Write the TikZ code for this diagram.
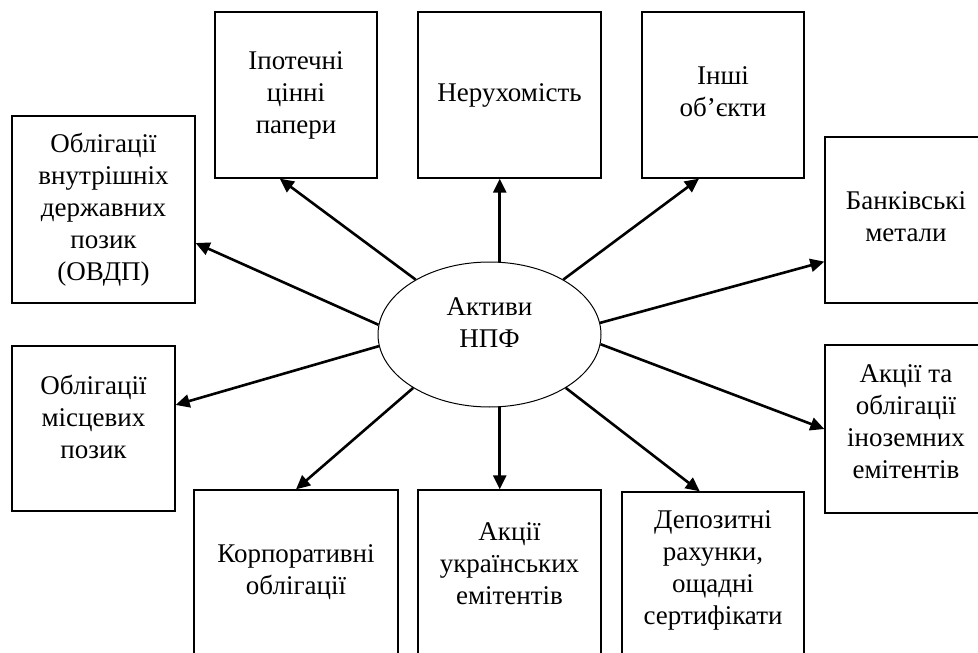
\documentclass[tikz,border=0pt]{standalone}
\usepackage{fontspec}
\setmainfont{Liberation Serif}
\usetikzlibrary{shapes.geometric, arrows.meta}

\begin{document}
\begin{tikzpicture}[
    x=1pt, y=-1pt,
    font=\fontsize{27}{32}\selectfont,
    assetbox/.style={draw=black, line width=1.3pt, rectangle,
                     minimum width=162pt, minimum height=166pt,
                     inner sep=0pt, align=center},
    centernode/.style={draw=black, line width=1pt, ellipse,
                       minimum width=223pt, minimum height=145pt,
                       inner sep=0pt, align=center},
    arr/.style={-{Triangle[length=14pt, width=13pt]}, line width=2.6pt},
]
    \clip (0,0) rectangle (978,653);
    \node[centernode, text depth=24pt] (n0) at (489.5,334.5) {Активи\\НПФ};
    \node[assetbox] (n1) at (296,95) {Іпотечні\\цінні\\папери};
    \node[assetbox, minimum width=183pt] (n2) at (509.5,95) {Нерухомість};
    \node[assetbox, text depth=6pt] (n3) at (723,95) {Інші\\об’єкти};
    \node[assetbox, minimum width=183pt, minimum height=187pt] (n4) at (103.5,209.5)
        {Облігації\\внутрішніх\\державних\\позик\\(ОВДП)};
    \node[assetbox, minimum width=163pt, minimum height=165pt, text depth=24pt] (n5) at (93.5,428.5)
        {Облігації\\місцевих\\позик};
    \node[assetbox, text depth=7pt] (n6) at (906,220) {Банківські\\метали};
    \node[assetbox, minimum height=168pt, text depth=14pt] (n7) at (906,429)
        {Акції та\\облігації\\іноземних\\емітентів};
    \node[assetbox, minimum width=204pt, text depth=6pt] (n8) at (296,573) {Корпоративні\\облігації};
    \node[assetbox, minimum width=183pt, text depth=18pt] (n9) at (509.5,573)
        {Акції\\українських\\емітентів};
    \node[assetbox, minimum width=182pt, text depth=15pt] (n10) at (713,575)
        {Депозитні\\рахунки,\\ощадні\\сертифікати};

    \draw[arr] (n0) -- (n1.259);
    \draw[arr] (n0.82) -- (n0.82 |- n2.south);
    \draw[arr] (n0) -- (n3.254);
    \draw[arr] (n0.175) -- (n4.340);
    \draw[arr] (n0.186) -- (n5.16);
    \draw[arr] (n0.6) -- (n6.207);
    \draw[arr] (n0.-5) -- (n7.west);
    \draw[arr] (n0.215) -- (n8.north);
    \draw[arr] (n0.-82) -- (n0.-82 |- n9.north);
    \draw[arr] (n0.-35) -- (n10.99);
\end{tikzpicture}
\end{document}
